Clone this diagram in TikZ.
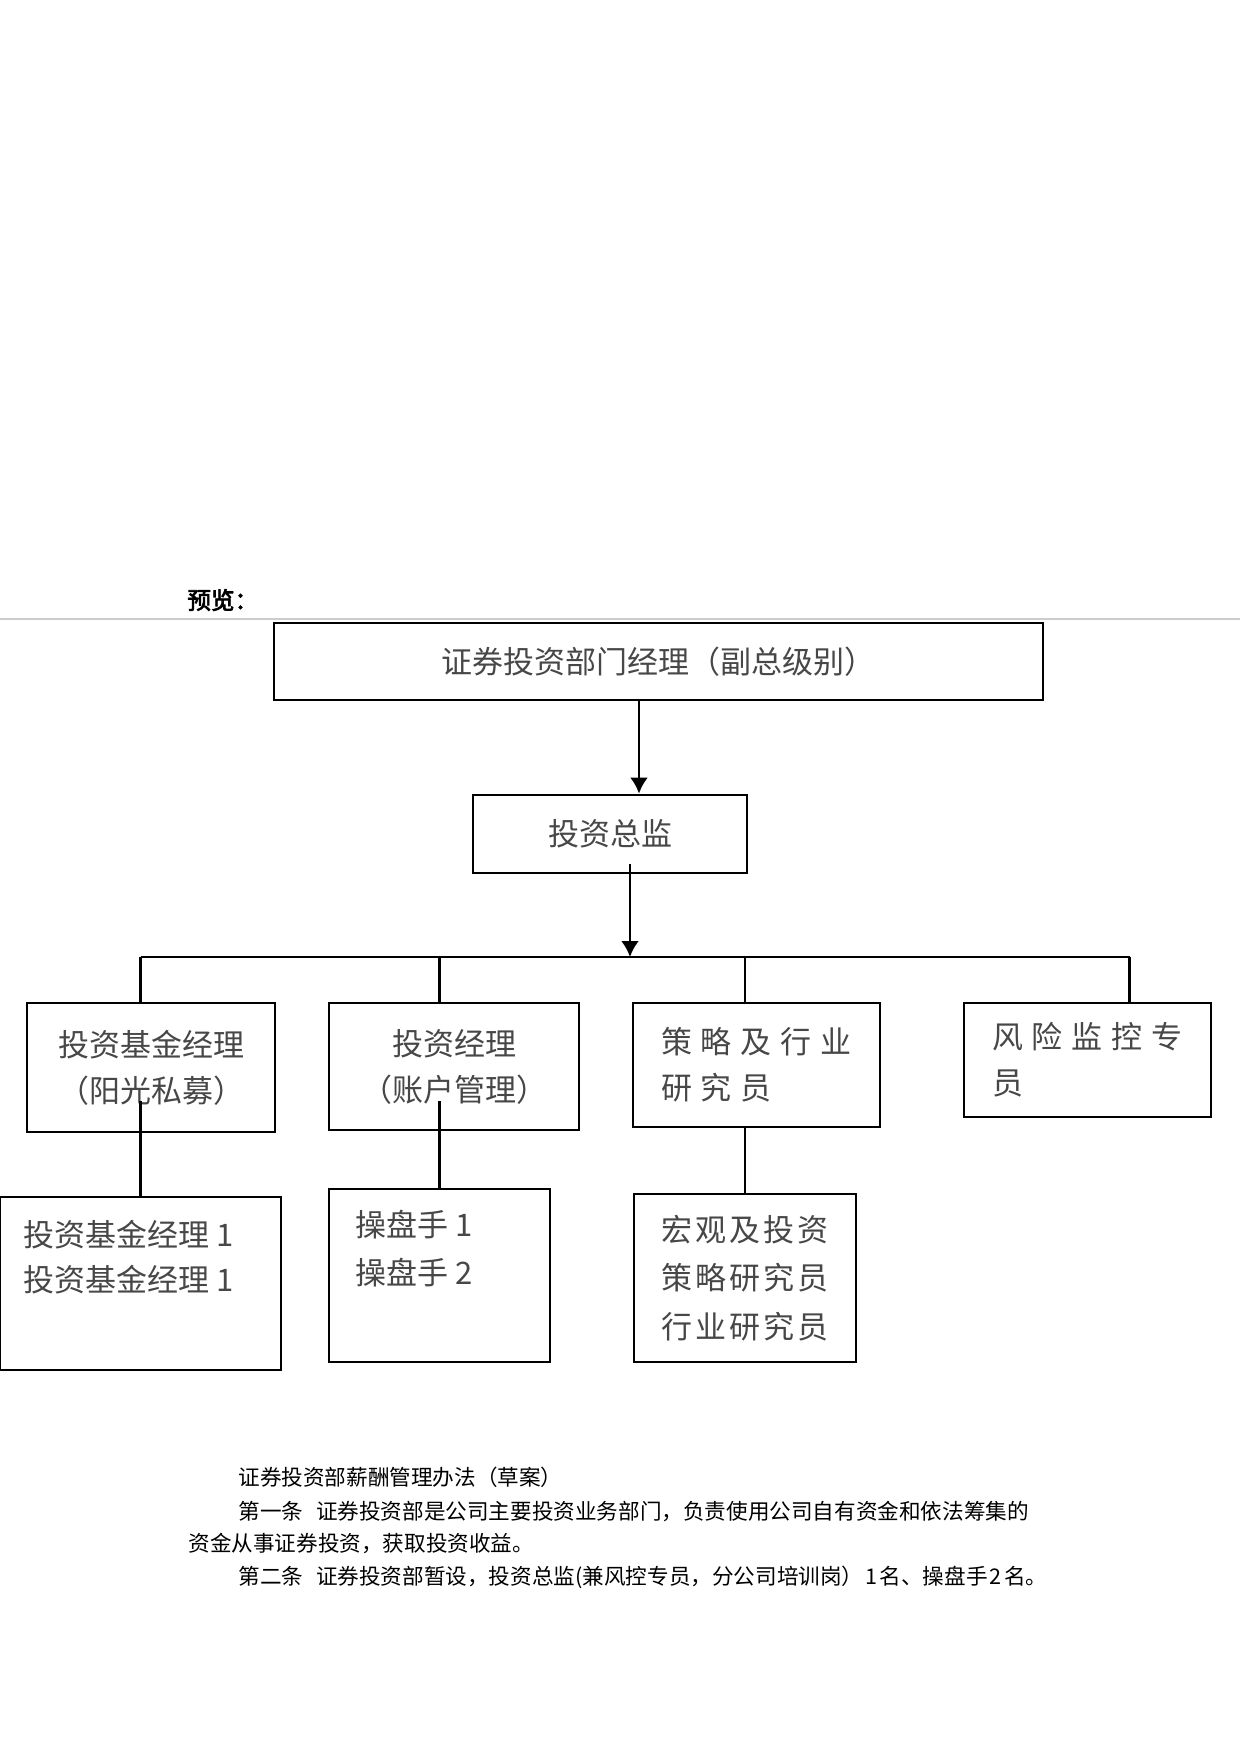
\documentclass[tikz,border=0pt]{standalone}
\usepackage{fontspec}
\usetikzlibrary{arrows.meta,calc}
\newfontfamily\cjk{Noto Sans CJK SC}
\newfontfamily\cjkbold[FakeBold=3]{Noto Sans CJK SC}
\newfontfamily\cjkwide[LetterSpace=29]{Noto Sans CJK SC}
\newfontfamily\cjkmid[LetterSpace=9]{Noto Sans CJK SC}

\begin{document}
\begin{tikzpicture}[x=0.5pt, y=-0.5pt, >={Latex[length=8pt,width=9pt]},
		box/.style={draw, line width=1.4pt, inner sep=0pt},
		boxtext/.style={text=black!72, font=\cjk\fontsize{15.5pt}{23pt}\selectfont},
		wire/.style={line width=1.1pt},
		body/.style={inner sep=0pt, anchor=base west, font=\cjk\fontsize{10.8pt}{16.5pt}\selectfont}]
	\useasboundingbox (0,0) rectangle (1240,1755);

	\node[inner sep=0pt, anchor=base west, font=\cjkbold\fontsize{11.8pt}{13pt}\selectfont]
	(preview) at (187,609) {预览：};
	\draw[black!20, line width=0.6pt] (0,619) -- (1240,619);

	\node[box, boxtext, minimum width=384.5pt, minimum height=38.5pt]
	(head) at (658.5,661.5) {证券投资部门经理（副总级别）};
	\node[box, boxtext, minimum width=137pt, minimum height=39pt]
	(dir) at (610,834) {投资总监};

	\node[box, boxtext, align=center, minimum width=124pt, minimum height=64.5pt]
	(fund) at (151,1067.5) {投资基金经理\\（阳光私募）};
	\node[box, boxtext, align=center, minimum width=125pt, minimum height=63.5pt]
	(acct) at (454,1066.5) {投资经理\\（账户管理）};
	\node[box, boxtext, align=left, minimum width=123.5pt, minimum height=62pt]
	(res) at (756.5,1065) {\cjkwide 策略及行业\\\cjkwide 研究员};
	\node[box, boxtext, align=left, minimum width=123.5pt, minimum height=57pt]
	(risk) at (1087.5,1060) {\cjkwide 风险监控专\\\cjkwide 员};

	\node[box, minimum width=140.5pt, minimum height=86.5pt] (a2) at (140.5,1283.5) {};
	\node[boxtext, align=left, inner sep=0pt, font=\cjk\fontsize{15.5pt}{22.5pt}\selectfont]
	(a2txt) at (129,1257.5) {投资基金经理 1\\投资基金经理 1};
	\node[box, minimum width=110.5pt, minimum height=86.5pt] (b2) at (439.5,1275.5) {};
	\node[boxtext, align=left, inner sep=0pt, font=\cjk\fontsize{15.5pt}{24pt}\selectfont]
	(b2txt) at (414,1249) {操盘手 1\\操盘手 2};
	\node[box, boxtext, align=left, minimum width=111pt, minimum height=84pt,
		font=\cjkmid\fontsize{15.5pt}{24.3pt}\selectfont]
	(c2) at (745,1278) {宏观及投资\\策略研究员\\行业研究员};

	\coordinate (bus) at (630,957);

	\draw[->, line width=1.4pt] ([xshift=-9.75pt]head.south) -- ([xshift=-9.75pt]head.south |- dir.north);
	\draw[->, line width=1.4pt] ($(dir.south)+(20,-10)$) -- (bus);

	\draw[wire] (a2.north |- bus) -- ($(risk.north |- bus)+(42,0)$);
	\draw[wire] (a2.north |- bus) -- (a2.north |- fund.north);
	\draw[wire] (b2.north |- bus) -- (b2.north |- acct.north);
	\draw[wire] (c2.north |- bus) -- (c2.north |- res.north);
	\draw[wire] ($(risk.north |- bus)+(42,0)$) -- ($(risk.north)+(42,0)$);

	\draw[wire] ($(a2.north |- fund.south)+(0,-32)$) -- (a2.north);
	\draw[wire] ($(b2.north |- acct.south)+(0,-30)$) -- (b2.north);
	\draw[wire] (c2.north |- res.south) -- (c2.north);

	\node[body] (title) at (238,1485) {证券投资部薪酬管理办法（草案）};
	\node[body] (art1) at (238,1519) {第一条\hspace{0.6em}证券投资部是公司主要投资业务部门，负责使用公司自有资金和依法筹集的};
	\node[body] (art1b) at (188,1551) {资金从事证券投资，获取投资收益。};
	\node[body] (art2) at (238,1584) {第二条\hspace{0.6em}证券投资部暂设，投资总监(兼风控专员，分公司培训岗）\hspace{0.1em}1\hspace{0.1em}名、操盘手\hspace{0.1em}2\hspace{0.1em}名。};
\end{tikzpicture}
\end{document}
